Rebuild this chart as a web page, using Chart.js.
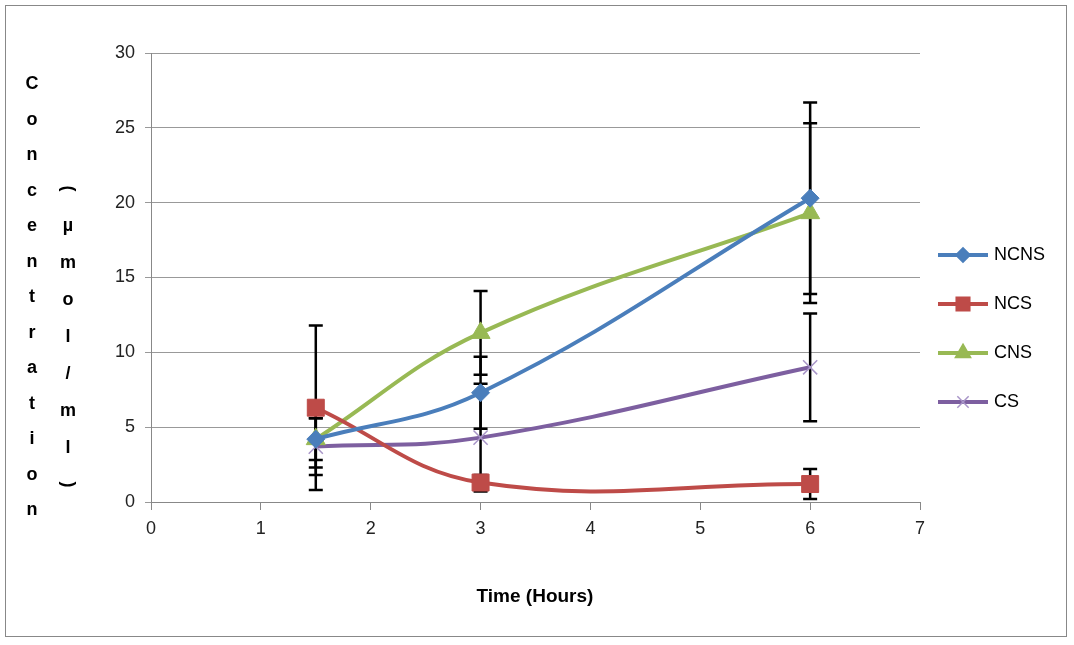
<!DOCTYPE html>
<html><head><meta charset="utf-8">
<script src="https://cdn.jsdelivr.net/npm/chart.js@4"></script>
<style>
body{margin:0;background:#fff;font-family:"Liberation Sans",Arial,sans-serif}
#wrap{position:relative;width:1074px;height:645px}
#frame{position:absolute;left:5px;top:5px;width:1062px;height:632px;border:1.5px solid #888;box-sizing:border-box}
.col{position:absolute;font-weight:bold;font-size:18px;text-align:center;width:20px;line-height:35.5px}
#xt{position:absolute;left:435px;width:200px;top:585px;text-align:center;font-weight:bold;font-size:19px}
#leg{position:absolute;left:938px;top:230px;font-size:18px}
.li{height:49px;display:flex;align-items:center}
.li canvas{margin-right:6px}
</style></head><body>
<div id="wrap">
<div id="frame"></div>
<canvas id="c" width="1074" height="645" style="position:absolute;left:0;top:0"></canvas>
<div class="col" id="c1" style="left:22px;top:66px"></div>
<div class="col" id="c2" style="left:58px;top:170px;line-height:37px"></div>
<div id="xt">Time (Hours)</div>
<div id="leg"></div>
</div>
<script>
const xs=[1.5,3,6];
const names=['NCNS','NCS','CNS','CS'];
const colors=['#4a7ebb','#be4b48','#98b954','#7d5fa0'];
const NCNS=[4.2,7.3,20.3], NCS=[6.3,1.3,1.2], CNS=[4.2,11.3,19.3], CS=[3.7,4.3,9.0];
const errNCNS=[1.4,2.4,6.4], errNCS=[5.5,0.5,1.0], errCNS=[1.9,2.8,6.0], errCS=[1.9,3.6,3.6];
const yTicks=[0,5,10,15,20,25,30], xTicks=[0,1,2,3,4,5,6,7];
const vals=[NCNS,NCS,CNS,CS], errs=[errNCNS,errNCS,errCNS,errCS];
const styles=['rectRot','rect','triangle','crossRot'];
const radii=[9,12,11,10];
document.getElementById('c1').innerHTML='Concentration'.split('').map(c=>c+'<br>').join('');
document.getElementById('c2').innerHTML='(µmol/ml)'.split('').map(c=>'<div style="'+(c==='('||c===')'?'transform:rotate(90deg)':'')+'">'+c+'</div>').join('');
const errPlugin={id:'err',beforeDatasetsDraw(ch){const ctx=ch.ctx,xs_=ch.scales.x,ys=ch.scales.y;ctx.save();ctx.strokeStyle='#000';ctx.lineWidth=2.5;
vals.forEach((v,i)=>v.forEach((y,j)=>{const px=xs_.getPixelForValue(xs[j]),t=ys.getPixelForValue(y+errs[i][j]),b=ys.getPixelForValue(y-errs[i][j]);
ctx.beginPath();ctx.moveTo(px,t);ctx.lineTo(px,b);ctx.moveTo(px-7,t);ctx.lineTo(px+7,t);ctx.moveTo(px-7,b);ctx.lineTo(px+7,b);ctx.stroke();}));ctx.restore();}};
new Chart(document.getElementById('c'),{type:'scatter',
data:{datasets:vals.map((v,i)=>({label:names[i],data:v.map((y,j)=>({x:xs[j],y})),showLine:true,tension:0.4,borderColor:colors[i],backgroundColor:colors[i],borderWidth:4,pointStyle:styles[i],pointRadius:radii[i],pointBorderWidth:i==3?1.5:1,pointBorderColor:i==3?'#a895c8':colors[i]}))},
options:{responsive:false,animation:false,layout:{padding:{top:53,right:154,left:0,bottom:0}},
plugins:{legend:{display:false},tooltip:{enabled:false}},
scales:{x:{type:'linear',min:0,max:7,afterFit(s){s.height=143},afterBuildTicks(s){s.ticks=xTicks.map(v=>({value:v}))},
ticks:{color:'#222',font:{size:18,family:'Liberation Sans'},padding:8},grid:{drawOnChartArea:false,color:'#888',tickLength:8},border:{color:'#888'}},
y:{min:0,max:30,afterFit(s){s.width=151},afterBuildTicks(s){s.ticks=yTicks.map(v=>({value:v}))},
ticks:{color:'#222',font:{size:18,family:'Liberation Sans'},padding:10},grid:{color:'#999',tickLength:6},border:{color:'#888'}}}},
plugins:[errPlugin]});
const leg=document.getElementById('leg');
names.forEach((n,i)=>{const d=document.createElement('div');d.className='li';const c=document.createElement('canvas');c.width=50;c.height=24;const x=c.getContext('2d');
x.strokeStyle=colors[i];x.fillStyle=colors[i];x.lineWidth=4;x.beginPath();x.moveTo(0,12);x.lineTo(50,12);x.stroke();
if(i==3)x.strokeStyle='#a895c8';x.lineWidth=1.5;
Chart.helpers.drawPoint(x,{pointStyle:styles[i],radius:radii[i]*0.8,borderWidth:1.5},25,12);
d.appendChild(c);d.appendChild(document.createTextNode(n));leg.appendChild(d);});
</script></body></html>
